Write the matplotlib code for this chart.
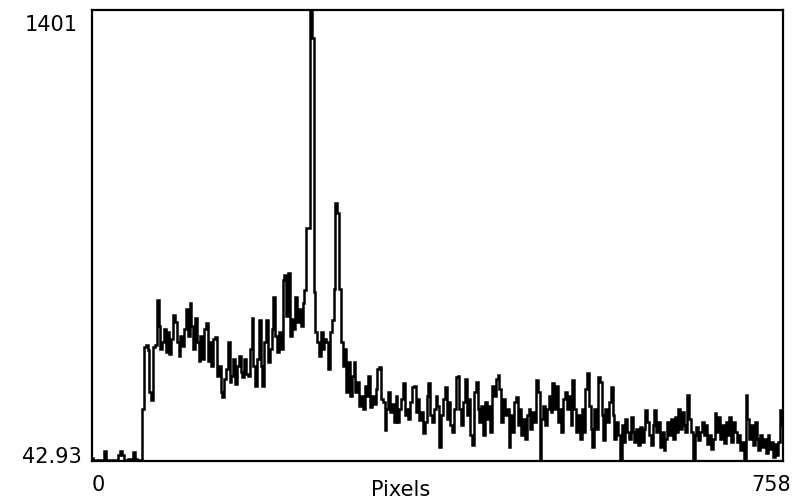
import numpy as np
import matplotlib
matplotlib.use("Agg")
import matplotlib.pyplot as plt

# intensity, one value every 2 pixels (0..758)
intensity = [
    # 0 - 54: dark baseline before the signal starts
    52, 46, 46, 46, 46, 46, 46, 72, 46, 46, 46, 46, 46, 46, 46, 62, 74, 60,
    46, 46, 50, 50, 48, 70, 50, 46, 46, 46,
    # 56 - 160
    200, 386, 392, 377, 250, 227, 386, 392, 528, 450, 380, 400, 440, 370,
    430, 365, 410, 483, 460, 400, 360, 420, 390, 440, 500, 420, 519, 450,
    380, 474, 400, 345, 420, 350, 440, 458, 345, 400, 330, 410, 416, 300,
    330, 250, 236, 290, 320, 401, 280, 300, 350, 275, 330,
    # 162 - 274: the two peaks
    360, 310, 295, 350, 305, 300, 380, 474, 330, 270, 350, 467, 330, 270,
    400, 467, 340, 380, 440, 537, 420, 370, 430, 380, 588, 603, 480, 609,
    420, 470, 440, 537, 460, 500, 450, 520, 558, 744, 744, 1401, 1316, 552,
    430, 400, 360, 430, 380, 410, 400, 320, 430, 467, 560, 820, 790, 560,
    400,
    # 276 - 402
    330, 380, 250, 340, 240, 300, 340, 250, 280, 210, 240, 200, 270, 240,
    300, 205, 240, 215, 260, 320, 326, 230, 220, 136, 200, 250, 190, 215,
    160, 240, 160, 200, 230, 278, 180, 200, 170, 220, 266, 270, 190, 230,
    165, 190, 127, 160, 240, 278, 180, 160, 200, 240, 210, 85, 180, 230,
    266, 170, 220, 150, 130, 200, 296, 300,
    # 404 - 536
    200, 150, 220, 290, 180, 230, 120, 90, 250, 280, 200, 160, 210, 120,
    220, 170, 210, 130, 270, 240, 290, 302, 260, 160, 230, 180, 200, 85,
    180, 130, 220, 236, 150, 200, 120, 170, 110, 180, 200, 140, 190, 160,
    287, 250, 46, 170, 210, 150, 200, 240, 190, 278, 200, 270, 160, 200,
    130, 230, 250, 200, 240, 150, 287, 200, 130, 180, 110,
    # 538 - 650
    200, 130, 260, 308, 210, 140, 85, 200, 140, 296, 280, 180, 106, 200,
    160, 220, 266, 180, 110, 160, 120, 46, 150, 100, 170, 130, 110, 175,
    130, 100, 140, 90, 145, 100, 140, 197, 160, 120, 90, 150, 197, 130,
    160, 85, 130, 76, 110, 160, 120, 170, 110, 175, 130, 200, 140, 190,
    150,
    # 652 - 758
    130, 242, 170, 130, 46, 120, 145, 106, 130, 160, 120, 150, 95, 120,
    80, 110, 187, 130, 175, 110, 150, 97, 160, 120, 175, 100, 160, 130,
    100, 120, 76, 100, 46, 242, 170, 110, 150, 90, 160, 110, 76, 120,
    85, 110, 67, 120, 80, 100, 55, 95, 60, 100, 197, 150,
]
pixels = np.arange(len(intensity)) * 2

y_min, y_max = 42.93, 1401
x_max = 758


def plot_profile():
    fig = plt.figure(figsize=(7.94, 4.99), dpi=100)
    ax = fig.add_axes([92 / 794, 38 / 499, 691 / 794, 451 / 499])

    ax.plot(pixels, intensity, color="black", lw=1.8, drawstyle="steps-mid",
            solid_joinstyle="miter")

    ax.set_xlim(0, x_max)
    ax.set_ylim(y_min, y_max)
    ax.set_xticks([])
    ax.set_yticks([])
    for s in ax.spines.values():
        s.set_linewidth(1.6)
        s.set_color("black")

    fs = 15
    ytr = ax.get_yaxis_transform()
    xtr = ax.get_xaxis_transform()
    ax.text(-0.02, y_max - 15, "1401", transform=ytr, ha="right", va="top",
            fontsize=fs)
    ax.text(-0.0145, y_min - 6, "42.93", transform=ytr, ha="right",
            va="baseline", fontsize=fs)
    ax.text(0, -0.031, "0", transform=xtr, ha="left", va="top", fontsize=fs)
    ax.text(x_max + 9, -0.031, "758", transform=xtr, ha="right", va="top",
            fontsize=fs)
    ax.text(0.447, -0.042, "Pixels", transform=ax.transAxes, ha="center",
            va="top", fontsize=fs)

    fig.savefig("out.png", dpi=100)


if __name__ == "__main__":
    plot_profile()
